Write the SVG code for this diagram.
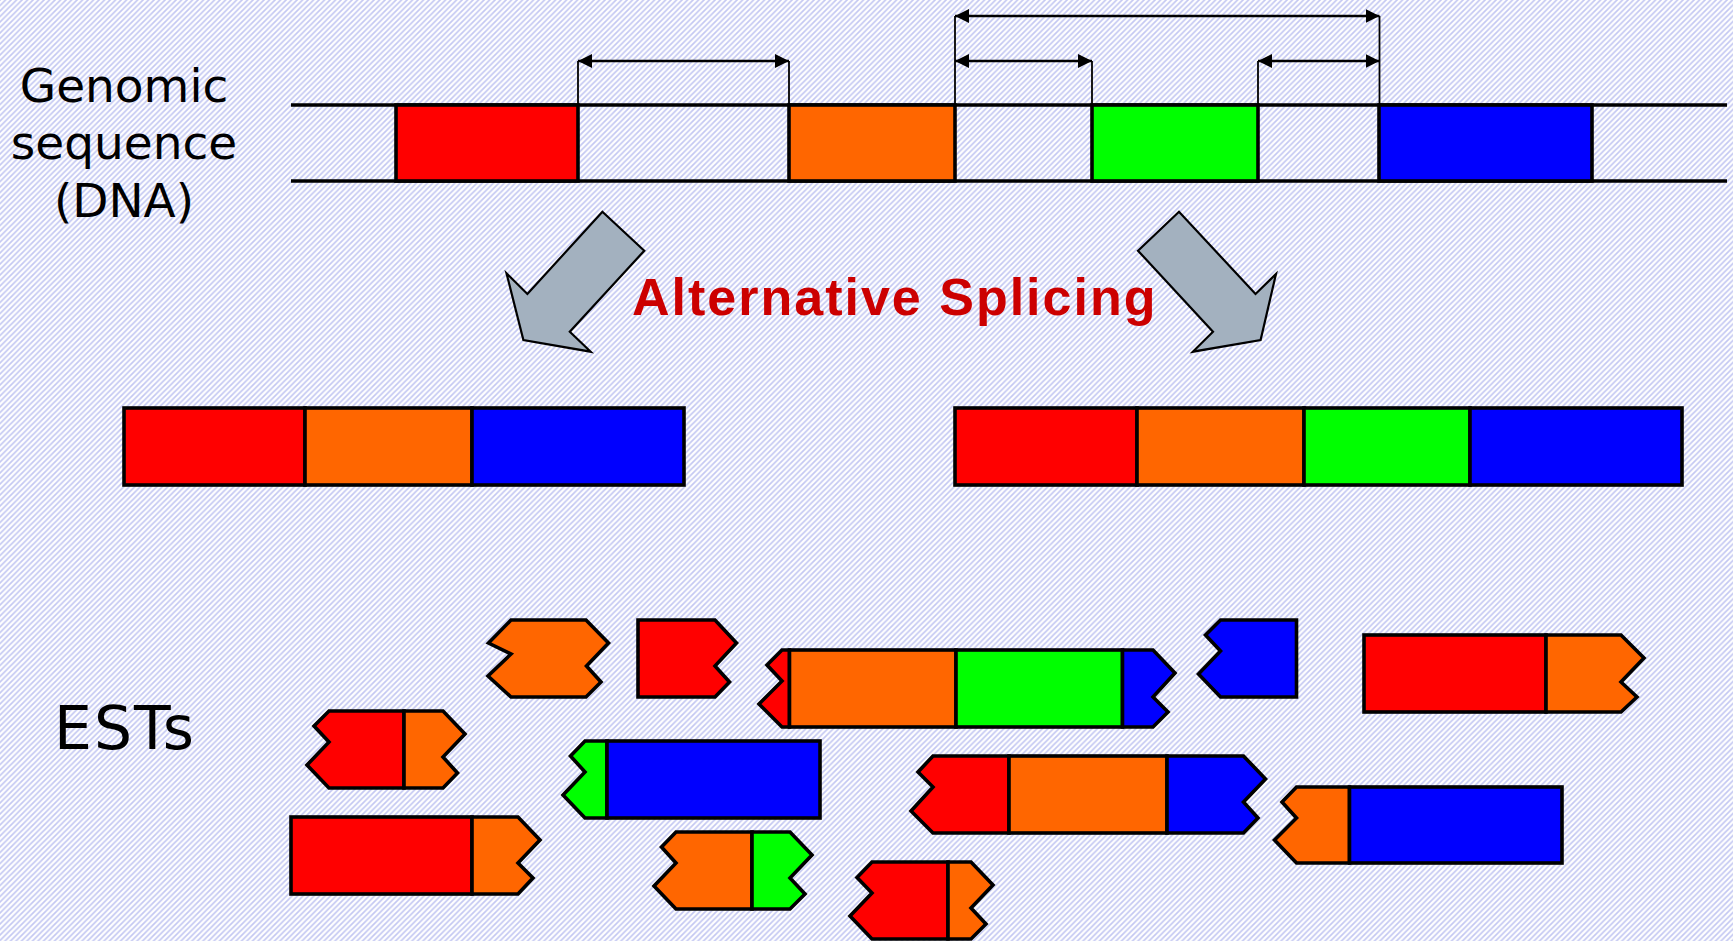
<svg xmlns="http://www.w3.org/2000/svg" width="1733" height="941" viewBox="0 0 1733 941">
<defs>
<pattern id="bg" patternUnits="userSpaceOnUse" width="5.5" height="5.5">
<rect width="5.5" height="5.5" fill="#ffffff"/>
<path d="M-1,1 L1,-1 M0,5.5 L5.5,0 M4.5,6.5 L6.5,4.5" stroke="#c4c8f2" stroke-width="1.7"/>
</pattern>
<marker id="ah" viewBox="0 0 14 14" refX="14" refY="7" markerWidth="14" markerHeight="14" markerUnits="userSpaceOnUse" orient="auto-start-reverse">
<path d="M0,0 L14,7 L0,14 z" fill="#000"/>
</marker>
<style>
.lbl{font-family:"DejaVu Sans",Verdana,sans-serif;fill:#000;text-anchor:middle}
.title{font-family:"Liberation Sans",Arial,sans-serif;font-weight:bold;fill:#cc0000}
.seg{stroke:#000;stroke-width:3.6;stroke-linejoin:miter}
.r{fill:#ff0000}.o{fill:#ff6600}.g{fill:#00ff00}.b{fill:#0000ff}
.gl{stroke:#000;stroke-width:3.6}
.dim{stroke:#000;stroke-width:2.5;fill:none}
.tick{stroke:#000;stroke-width:1.8}
.big{fill:#a3b1bf;stroke:#000;stroke-width:2.2;stroke-linejoin:miter}
</style>
</defs>
<rect width="1733" height="941" fill="url(#bg)"/>

<g id="labels">
<text class="lbl" x="124" y="101.5" font-size="47">Genomic</text>
<text class="lbl" x="124" y="159" font-size="47">sequence</text>
<text class="lbl" x="124" y="216.5" font-size="47">(DNA)</text>
<text class="lbl" x="125" y="749" font-size="60" letter-spacing="2">ESTs</text>
<text class="title" x="632" y="315" font-size="52" letter-spacing="2">Alternative Splicing</text>
</g>

<g id="genome">
<line class="gl" x1="291" y1="105" x2="1727" y2="105"/>
<line class="gl" x1="291" y1="181" x2="1727" y2="181"/>
<rect class="seg r" x="396" y="105" width="182" height="76"/>
<rect class="seg o" x="789" y="105" width="166" height="76"/>
<rect class="seg g" x="1092" y="105" width="166" height="76"/>
<rect class="seg b" x="1379" y="105" width="213" height="76"/>
</g>

<g id="connectors">
<line class="tick" x1="578" y1="61" x2="578" y2="105"/>
<line class="tick" x1="789" y1="61" x2="789" y2="105"/>
<line class="tick" x1="955" y1="16" x2="955" y2="105"/>
<line class="tick" x1="1092" y1="61" x2="1092" y2="105"/>
<line class="tick" x1="1258" y1="61" x2="1258" y2="105"/>
<line class="tick" x1="1379.5" y1="16" x2="1379.5" y2="105"/>
<line class="dim" x1="578" y1="61" x2="789" y2="61" marker-start="url(#ah)" marker-end="url(#ah)"/>
<line class="dim" x1="955" y1="16" x2="1379.5" y2="16" marker-start="url(#ah)" marker-end="url(#ah)"/>
<line class="dim" x1="955" y1="61" x2="1092" y2="61" marker-start="url(#ah)" marker-end="url(#ah)"/>
<line class="dim" x1="1258" y1="61" x2="1379.5" y2="61" marker-start="url(#ah)" marker-end="url(#ah)"/>
<polygon id="splice-left" class="big" points="602.4,211.7 644.3,250.7 569.8,331.7 590.7,351.7 523.4,340 506.5,273.3 527.4,294"/>
<polygon id="splice-right" class="big" points="1179,211.7 1138,250.7 1213,331.7 1192.8,351.7 1260.6,340 1276,274 1255.5,294"/>
</g>

<g id="transcript-1">
<rect class="seg r" x="124" y="408" width="181" height="77"/>
<rect class="seg o" x="305" y="408" width="167" height="77"/>
<rect class="seg b" x="472" y="408" width="212" height="77"/>
</g>
<g id="transcript-2">
<rect class="seg r" x="955" y="408" width="182" height="77"/>
<rect class="seg o" x="1137" y="408" width="167" height="77"/>
<rect class="seg g" x="1304" y="408" width="166" height="77"/>
<rect class="seg b" x="1470" y="408" width="212" height="77"/>
</g>

<g id="est-a">
<polygon class="seg o" points="511,620 586,620 608.5,643 586.5,666 601,682 586,697 511,697 488,676 511,654 488.5,643"/>
</g>
<g id="est-b">
<polygon class="seg r" points="638,620 715,620 736.5,643 715,666 729.5,682 715,697 638,697"/>
</g>
<g id="est-c">
<polygon class="seg r" points="329,711 404,711 404,788 329,788 307,765 329,742 314,726"/>
<polygon class="seg o" points="404,711 443,711 465,734 443,757 457.5,773 443,788 404,788"/>
</g>
<g id="est-d">
<rect class="seg r" x="291" y="817" width="181" height="77"/>
<polygon class="seg o" points="472,817 518,817 540,840 518,863 533,878 518,894 472,894"/>
</g>
<g id="est-e">
<polygon class="seg g" points="585,741 607,741 607,818 585,818 563,795 585,772 570.5,756"/>
<rect class="seg b" x="607" y="741" width="213" height="77"/>
</g>
<g id="est-f">
<polygon class="seg o" points="676,832 752,832 752,909 676,909 654,886 676,863 661.5,847"/>
<polygon class="seg g" points="752,832 790,832 812,855 790,878 805,894 790,909 752,909"/>
</g>
<g id="est-g">
<polygon class="seg r" points="782,650 789.5,650 789.5,727 782,727 759,704 782,681 767,665"/>
<rect class="seg o" x="789.5" y="650" width="166.5" height="77"/>
<rect class="seg g" x="956" y="650" width="166.5" height="77"/>
<polygon class="seg b" points="1122.5,650 1153,650 1175,673 1153,697 1168,712 1153,727 1122.5,727"/>
</g>
<g id="est-h">
<polygon class="seg b" points="1220.5,620 1296.5,620 1296.5,697 1220.5,697 1198.5,674 1220.5,651 1205.5,635"/>
</g>
<g id="est-i">
<rect class="seg r" x="1364" y="635" width="182" height="77"/>
<polygon class="seg o" points="1546,635 1621,635 1644,658 1621,682 1637,697 1621,712 1546,712"/>
</g>
<g id="est-j">
<polygon class="seg r" points="933,756 1009,756 1009,833 933,833 911,811 933,787 918,772"/>
<rect class="seg o" x="1009" y="756" width="158" height="77"/>
<polygon class="seg b" points="1167,756 1243.5,756 1265.5,779 1243.5,802 1258,818 1243.5,833 1167,833"/>
</g>
<g id="est-k">
<polygon class="seg o" points="1296.5,787 1349.5,787 1349.5,863 1296.5,863 1274.5,840 1296.5,818 1282,802"/>
<rect class="seg b" x="1349.5" y="787" width="212.5" height="76"/>
</g>
<g id="est-l">
<polygon class="seg r" points="872,862 948,862 948,939 872,939 850,916 872,893 857,877.5"/>
<polygon class="seg o" points="948,862 971,862 993,885 971,908 986,924 971,939 948,939"/>
</g>
</svg>
